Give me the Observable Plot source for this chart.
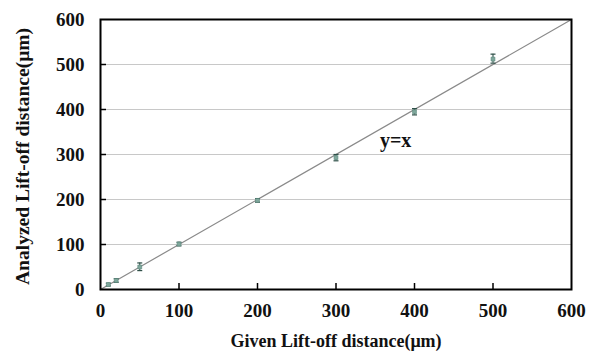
<!DOCTYPE html>
<html><head><meta charset="utf-8">
<script src="https://cdn.jsdelivr.net/npm/d3@7"></script>
<script src="https://cdn.jsdelivr.net/npm/@observablehq/plot@0.6"></script>
<style>body{margin:0;background:#fff;} svg{font-family:"Liberation Serif",serif;}</style>
</head><body><div id="chart"></div>
<script>
const givenDistance = [10, 20, 50, 100, 200, 300, 400, 500];
const analyzedDistance = [11, 20, 50, 101, 198, 293, 395, 512];
const errorLow = [3, 4, 8, 4, 4, 7, 7, 9];
const errorHigh = [3, 4, 9, 4, 4, 7, 7, 11];
const refLineX = [0, 600];
const tickValues = [0, 100, 200, 300, 400, 500, 600];
const annotation = [{x: 376, y: 331, label: "y=x"}];

const pts = givenDistance.map((g, i) => ({x: g, y: analyzedDistance[i], lo: analyzedDistance[i] - errorLow[i], hi: analyzedDistance[i] + errorHigh[i]}));
const ref = refLineX.map(v => ({x: v, y: v}));
const cap = {draw(ctx, size) { const w = 2.5; ctx.moveTo(-w, 0); ctx.lineTo(w, 0); }};

const chart = Plot.plot({
  width: 599, height: 358,
  marginLeft: 100, marginRight: 28, marginTop: 19, marginBottom: 69,
  style: {fontFamily: "Liberation Serif, serif", fontWeight: "bold", fontSize: "19px", color: "#111"},
  x: {domain: [0, 600], ticks: tickValues},
  y: {domain: [0, 600], ticks: tickValues},
  marks: [
    Plot.gridY(tickValues.slice(1, -1), {stroke: "#c8c8c8", strokeOpacity: 1, strokeWidth: 1}),
    Plot.axisX(tickValues, {tickSize: 0, tickPadding: 14, fontSize: 19, fontWeight: "bold", label: null}),
    Plot.axisY(tickValues, {tickSize: 0, tickPadding: 16, fontSize: 19, fontWeight: "bold", label: null}),
    Plot.axisX(tickValues.slice(1, -1), {tickSize: -6, text: null, label: null, strokeWidth: 1.5, stroke: "#000"}),
    Plot.axisY(tickValues.slice(1, -1), {tickSize: -6, text: null, label: null, strokeWidth: 1.5, stroke: "#000"}),
    Plot.line(ref, {x: "x", y: "y", stroke: "#8a8a8a", strokeWidth: 1.2}),
    Plot.ruleX(pts, {x: "x", y1: "lo", y2: "hi", stroke: "#3f5f58", strokeWidth: 1.2}),
    Plot.dot(pts, {x: "x", y: "lo", symbol: cap, r: 2, stroke: "#2f4f48", strokeWidth: 1.2}),
    Plot.dot(pts, {x: "x", y: "hi", symbol: cap, r: 2, stroke: "#2f4f48", strokeWidth: 1.2}),
    Plot.dot(pts, {x: "x", y: "y", symbol: "square", r: 2.2, fill: "#7fa79c", stroke: "#5d8a7e", strokeWidth: 0.6}),
    Plot.text(annotation, {x: "x", y: "y", text: "label", fontSize: 20, fontWeight: "bold", fill: "#111"}),
    Plot.frame({stroke: "#000", strokeWidth: 2}),
    Plot.text(["Given Lift-off distance(μm)"], {frameAnchor: "bottom", dy: 57, fontSize: 18, fontWeight: "bold", fill: "#111", text: d => d}),
    Plot.text(["Analyzed Lift-off distance(μm)"], {frameAnchor: "left", textAnchor: "middle", dx: -78, dy: 2, rotate: -90, fontSize: 19.5, fontWeight: "bold", fill: "#111", text: d => d})
  ]
});
document.getElementById("chart").append(chart);
</script></body></html>
